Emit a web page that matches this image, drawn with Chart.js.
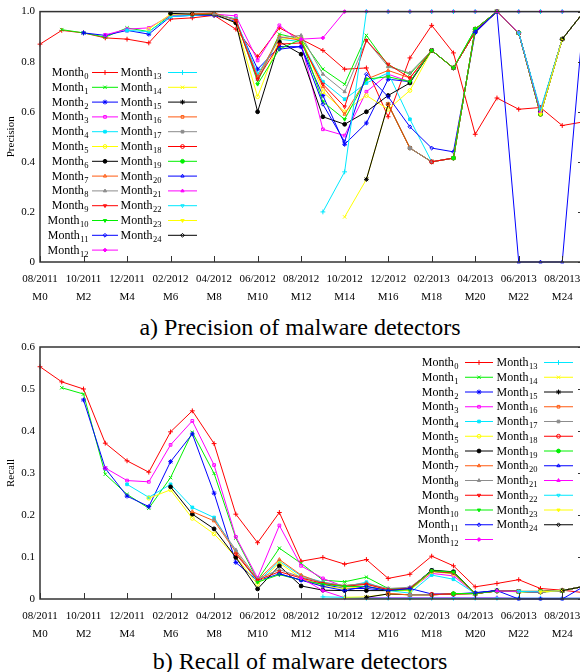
<!DOCTYPE html>
<html><head><meta charset="utf-8">
<script src="https://cdn.jsdelivr.net/npm/chart.js"></script>
<style>
html,body{margin:0;padding:0;background:#fff;}
body{width:580px;height:672px;overflow:hidden;position:relative;font-family:'Liberation Serif','Times New Roman',serif;}
#c1{position:absolute;left:0;top:0;width:600px;height:305px;}
#c2{position:absolute;left:0;top:330px;width:600px;height:312px;}
.cap{position:absolute;left:0;width:600px;text-align:center;font-size:24px;line-height:24px;color:#000;white-space:nowrap;}
</style></head><body>
<canvas id="c1" width="600" height="305"></canvas>
<div class="cap" style="top:315px">a) Precision of malware detectors</div>
<canvas id="c2" width="600" height="312"></canvas>
<div class="cap" style="top:649px">b) Recall of malware detectors</div>
<script>
// ---------- data ----------
const MONTH_INDEX = [0,1,2,3,4,5,6,7,8,9,10,11,12,13,14,15,16,17,18,19,20,21,22,23,24,25];
const XTICK_VALUES = [0,2,4,6,8,10,12,14,16,18,20,22,24];
const XTICK_DATES = ["08/2011","10/2011","12/2011","02/2012","04/2012","06/2012","08/2012","10/2012","12/2012","02/2013","04/2013","06/2013","08/2013"];
const XTICK_MONTHS = ["M0","M2","M4","M6","M8","M10","M12","M14","M16","M18","M20","M22","M24"];
const SERIES_BASE = "Month";

// precision, series k starts at month k
const P0 = [0.87,0.925,0.915,0.895,0.89,0.875,0.97,0.975,0.985,0.93,0.82,0.935,0.89,0.845,0.77,0.775,0.58,0.815,0.945,0.835,0.51,0.655,0.61,0.617,0.545,0.56];
const P1 = [0.928,0.915,0.898,0.935,0.92,0.985,0.99,0.99,0.97,0.72,0.91,0.89,0.77,0.71,0.905,0.785,0.75,0.845,0.775,0.93,1,0.915,0.6,0.89,1];
const P2 = [0.915,0.905,0.925,0.91,0.98,0.985,0.985,0.96,0.77,0.86,0.86,0.665,0.47,0.555,0.73,0.72,0.845,0.775,0.92,1,0.915,0.6,0.89,1];
const P3 = [0.907,0.93,0.935,0.985,0.99,0.99,0.983,0.805,0.945,0.875,0.53,0.505,0.68,0.75,0.72,0.845,0.775,0.92,1,0.915,0.6,0.89,1];
const P4 = [0.925,0.92,0.98,0.985,0.99,0.97,0.75,0.89,0.88,0.72,0.65,0.715,0.755,0.57,0.40,0.415,0.93,1,0.915,0.6,0.89,1];
const P5 = [0.93,0.99,0.99,0.99,0.955,0.66,0.89,0.895,0.68,0.6,0.665,0.61,0.685,0.845,0.775,0.92,1,0.915,0.6,0.89,1];
const P6 = [0.993,0.99,0.99,0.955,0.60,0.88,0.83,0.58,0.55,0.60,0.665,0.715,0.845,0.775,0.92,1,0.915,0.6,0.89,1];
const P7 = [0.99,0.995,0.965,0.74,0.90,0.885,0.70,0.59,0.73,0.765,0.735,0.845,0.775,0.92,1,0.915,0.6,0.89,1];
const P8 = [0.99,0.97,0.73,0.895,0.905,0.75,0.68,0.885,0.78,0.755,0.845,0.775,0.925,1,0.915,0.6,0.89,1];
const P9 = [0.965,0.73,0.87,0.875,0.71,0.62,0.885,0.79,0.735,0.845,0.775,0.92,1,0.915,0.6,0.89,1];
const P10 = [0.71,0.85,0.89,0.64,0.57,0.73,0.74,0.72,0.845,0.775,0.93,1,0.915,0.6,0.89,1];
const P11 = [0.85,0.86,0.63,0.48,0.75,0.66,0.54,0.455,0.44,0.915,1,0.915,0.6,0.89,1];
const P12 = [0.89,0.895,1,1,1,1,1,1,1,1,1,1,1,1];
const P13 = [0.2,0.36,1,1,1,1,1,1,1,1,1,1,1];
const P14 = [0.18,0.33,0.63,0.455,0.40,0.415,0.93,1,0.915,0.59,0.89,1];
const P15 = [0.33,0.63,0.455,0.40,0.415,0.93,1,0.915,0.59,0.89,1];
const P16 = [0.63,0.455,0.40,0.415,0.93,1,0.915,0.59,0.89,1];
const P17 = [0.455,0.40,0.415,0.93,1,0.915,0.59,0.89,1];
const P18 = [0.40,0.415,0.93,1,0.915,0.59,0.89,1];
const P19 = [0.415,0.93,1,0.915,0.59,0.89,1];
const P20 = [0.92,1,0,0,0,1];
const P21 = [1,0.915,0.6,0.89,1];
const P22 = [0.915,0.61,0.89,1];
const P23 = [0.59,0.89,1];
const P24 = [0.89,1];

// recall, series k starts at month k
const R0 = [0.553,0.517,0.50,0.371,0.329,0.302,0.398,0.448,0.37,0.202,0.134,0.206,0.09,0.099,0.083,0.094,0.049,0.059,0.102,0.079,0.029,0.037,0.046,0.025,0.021,0.015];
const R1 = [0.503,0.488,0.297,0.249,0.216,0.289,0.397,0.299,0.145,0.045,0.121,0.085,0.045,0.041,0.052,0.025,0.025,0.069,0.064,0.013,0.02,0.017,0.016,0.02,0.03];
const R2 = [0.474,0.311,0.245,0.22,0.327,0.393,0.252,0.087,0.043,0.06,0.045,0.035,0.025,0.025,0.02,0.025,0.068,0.063,0.013,0.02,0.018,0.017,0.02,0.03];
const R3 = [0.312,0.282,0.279,0.367,0.424,0.319,0.148,0.05,0.175,0.079,0.049,0.029,0.03,0.02,0.022,0.061,0.055,0.013,0.02,0.018,0.017,0.02,0.03];
const R4 = [0.273,0.242,0.273,0.218,0.194,0.112,0.04,0.09,0.055,0.04,0.03,0.04,0.02,0.014,0.057,0.047,0.013,0.02,0.018,0.017,0.02,0.03];
const R5 = [0.24,0.26,0.192,0.155,0.10,0.035,0.086,0.05,0.03,0.025,0.03,0.02,0.02,0.065,0.06,0.013,0.019,0.017,0.016,0.02,0.03];
const R6 = [0.267,0.202,0.167,0.099,0.024,0.079,0.031,0.021,0.02,0.02,0.02,0.025,0.068,0.065,0.013,0.02,0.018,0.017,0.02,0.03];
const R7 = [0.208,0.186,0.112,0.045,0.094,0.057,0.037,0.032,0.037,0.022,0.025,0.066,0.062,0.013,0.02,0.018,0.017,0.02,0.03];
const R8 = [0.19,0.117,0.048,0.07,0.052,0.04,0.032,0.037,0.025,0.028,0.066,0.061,0.013,0.02,0.018,0.017,0.02,0.03];
const R9 = [0.107,0.045,0.065,0.05,0.037,0.03,0.035,0.022,0.025,0.066,0.062,0.013,0.02,0.018,0.017,0.02,0.03];
const R10 = [0.04,0.058,0.045,0.035,0.03,0.03,0.02,0.022,0.067,0.064,0.013,0.02,0.018,0.017,0.02,0.03];
const R11 = [0.06,0.045,0.03,0.02,0.03,0.02,0.025,0.012,0.012,0.015,0.02,0.018,0.017,0.02,0.03];
const R12 = [0.05,0.02,0.003,0.003,0.003,0.003,0.003,0.003,0.003,0.003,0.002,0.002,0.002,0.002];
const R13 = [0.005,0.004,0.002,0.002,0.002,0.002,0.002,0.002,0.002,0.002,0.002,0.002,0.002];
const R14 = [0.004,0.005,0.012,0.01,0.01,0.012,0.013,0.019,0.018,0.018,0.02,0.03];
const R15 = [0.004,0.012,0.01,0.01,0.012,0.013,0.019,0.018,0.018,0.02,0.03];
const R16 = [0.013,0.01,0.01,0.012,0.013,0.019,0.018,0.018,0.02,0.03];
const R17 = [0.01,0.01,0.012,0.013,0.019,0.018,0.018,0.02,0.03];
const R18 = [0.011,0.012,0.013,0.019,0.018,0.018,0.02,0.03];
const R19 = [0.013,0.013,0.019,0.018,0.018,0.02,0.03];
const R20 = [0.015,0.02,0,0,0,0.03];
const R21 = [0.019,0.018,0.017,0.02,0.03];
const R22 = [0.018,0.017,0.02,0.03];
const R23 = [0.017,0.02,0.03];
const R24 = [0.02,0.03];

const PRECISION_SERIES = [P0,P1,P2,P3,P4,P5,P6,P7,P8,P9,P10,P11,P12,P13,P14,P15,P16,P17,P18,P19,P20,P21,P22,P23,P24];
const RECALL_SERIES = [R0,R1,R2,R3,R4,R5,R6,R7,R8,R9,R10,R11,R12,R13,R14,R15,R16,R17,R18,R19,R20,R21,R22,R23,R24];

// ---------- styles ----------
const FONT = "'Liberation Serif','Times New Roman',serif";
const COLORS = ['#ff0000','#00f000','#0000ff','#ff00ff','#00e8ff','#ffff00','#000000','#ff5a10','#8c8c8c'];
const POINTS = [
  {s:'cross',r:0,f:false},{s:'crossRot',r:0,f:false},{s:'star',r:0,f:false},
  {s:'rect',r:0,f:false},{s:'rect',r:0,f:true},{s:'circle',r:0,f:false},{s:'circle',r:0,f:true},
  {s:'triangle',r:0,f:false},{s:'triangle',r:0,f:true},{s:'triangle',r:180,f:false},{s:'triangle',r:180,f:true},
  {s:'rectRot',r:0,f:false},{s:'rectRot',r:0,f:true}
];

function alignToMonths(start, vals){
  const arr = MONTH_INDEX.map(() => null);
  vals.forEach((v, i) => { arr[start + i] = v; });
  return arr;
}

const framePlugin = {
  id: 'gpFrame',
  afterDatasetsDraw(chart){
    const {ctx, chartArea:a, scales} = chart;
    const x = scales.x, y = scales.y;
    ctx.save();
    ctx.strokeStyle = '#333';
    ctx.lineWidth = 1.5;
    ctx.strokeRect(a.left, a.top, a.right - a.left, a.bottom - a.top);
    ctx.lineWidth = 1;
    x.ticks.forEach(t => {
      const px = Math.round(x.getPixelForValue(t.value)) + 0.5;
      ctx.beginPath(); ctx.moveTo(px, a.bottom); ctx.lineTo(px, a.bottom - 6); ctx.stroke();
    });
    y.ticks.forEach(t => {
      const py = Math.round(y.getPixelForValue(t.value)) + 0.5;
      ctx.beginPath(); ctx.moveTo(a.right, py); ctx.lineTo(a.right - 6, py); ctx.stroke();
    });
    ctx.restore();
  }
};

const legendPlugin = {
  id: 'gpLegend',
  afterDatasetsDraw(chart, args, o){
    const ctx = chart.ctx;
    ctx.save();
    chart.data.datasets.forEach((ds, i) => {
      const col = o.cols[Math.floor(i / o.rows)];
      const yy = o.y0 + (i % o.rows) * o.step;
      const sub = String(ds.sub);
      ctx.font = '12px ' + FONT;
      const wMain = ctx.measureText(SERIES_BASE).width;
      ctx.font = '8.5px ' + FONT;
      const wSub = ctx.measureText(sub).width;
      const x0 = col.labelRight - wMain - wSub;
      ctx.fillStyle = '#000';
      ctx.textBaseline = 'alphabetic';
      ctx.textAlign = 'left';
      ctx.font = '12px ' + FONT;
      ctx.fillText(SERIES_BASE, x0, yy + 4);
      ctx.font = '8.5px ' + FONT;
      ctx.fillText(sub, x0 + wMain + 0.5, yy + 7);
      ctx.strokeStyle = ds.borderColor;
      ctx.lineWidth = ds.borderWidth;
      ctx.beginPath(); ctx.moveTo(col.s1, yy + 0.5); ctx.lineTo(col.s2, yy + 0.5); ctx.stroke();
      ctx.fillStyle = ds.pointBackgroundColor;
      ctx.lineWidth = ds.pointBorderWidth;
      if (Chart.helpers && Chart.helpers.drawPoint) {
        Chart.helpers.drawPoint(ctx, {pointStyle: ds.pointStyle, rotation: ds.pointRotation, radius: ds.pointRadius, borderWidth: ds.pointBorderWidth}, (col.s1 + col.s2) / 2, yy + 0.5);
      }
    });
    ctx.restore();
  }
};

function makeChart(id, series, yMin, yMax, yStep, yTitle, padTop, legendOpts){
  const datasets = series.map((vals, k) => {
    const c = COLORS[k % 9];
    const p = POINTS[k % 13];
    const lineLike = (p.s === 'cross' || p.s === 'crossRot' || p.s === 'star');
    return {
      label: SERIES_BASE + k,
      sub: k,
      data: alignToMonths(k, vals),
      borderColor: c,
      backgroundColor: c,
      borderWidth: 1,
      pointStyle: p.s,
      pointRotation: p.r,
      pointRadius: lineLike ? 2.4 : 1.9,
      pointBorderWidth: 1,
      pointBorderColor: c,
      pointBackgroundColor: p.f ? c : 'rgba(255,255,255,0)',
      tension: 0,
      spanGaps: false,
      clip: false,
      order: 24 - k
    };
  });
  return new Chart(document.getElementById(id), {
    type: 'line',
    data: { labels: MONTH_INDEX, datasets },
    options: {
      responsive: false,
      animation: false,
      devicePixelRatio: 1,
      layout: { padding: { top: padTop, right: 16, left: 0, bottom: 0 } },
      plugins: { legend: { display: false }, tooltip: { enabled: false }, gpLegend: legendOpts },
      scales: {
        x: {
          type: 'linear', min: 0, max: 25,
          grid: { display: false, drawTicks: false },
          border: { display: false },
          afterBuildTicks: s => { s.ticks = XTICK_VALUES.map(v => ({ value: v })); },
          afterFit: s => { s.height = 43; },
          ticks: {
            padding: 8, autoSkip: false, maxRotation: 0, color: '#000',
            font: { family: FONT, size: 11, lineHeight: 1.64 },
            callback: (v) => { const i = XTICK_VALUES.indexOf(v); return i < 0 ? '' : [XTICK_DATES[i], XTICK_MONTHS[i]]; }
          }
        },
        y: {
          type: 'linear', min: yMin, max: yMax,
          grid: { display: false, drawTicks: false },
          border: { display: false },
          afterFit: s => { s.width = 40; },
          ticks: { stepSize: yStep, padding: 5, color: '#000', font: { family: FONT, size: 11 } },
          title: { display: true, text: yTitle, color: '#000', font: { family: FONT, size: 11 }, padding: { top: 5, bottom: 0 } }
        }
      }
    },
    plugins: [framePlugin, legendPlugin]
  });
}

makeChart('c1', PRECISION_SERIES, 0, 1, 0.2, 'Precision', 11, {
  cols: [{labelRight: 88, s1: 92, s2: 118}, {labelRight: 161, s1: 168, s2: 197}],
  y0: 72, step: 14.8, rows: 13
});
makeChart('c2', RECALL_SERIES, 0, 0.6, 0.1, 'Recall', 17, {
  cols: [{labelRight: 458, s1: 465, s2: 493}, {labelRight: 537, s1: 544, s2: 573}],
  y0: 32, step: 14.75, rows: 13
});
</script>
</body></html>
